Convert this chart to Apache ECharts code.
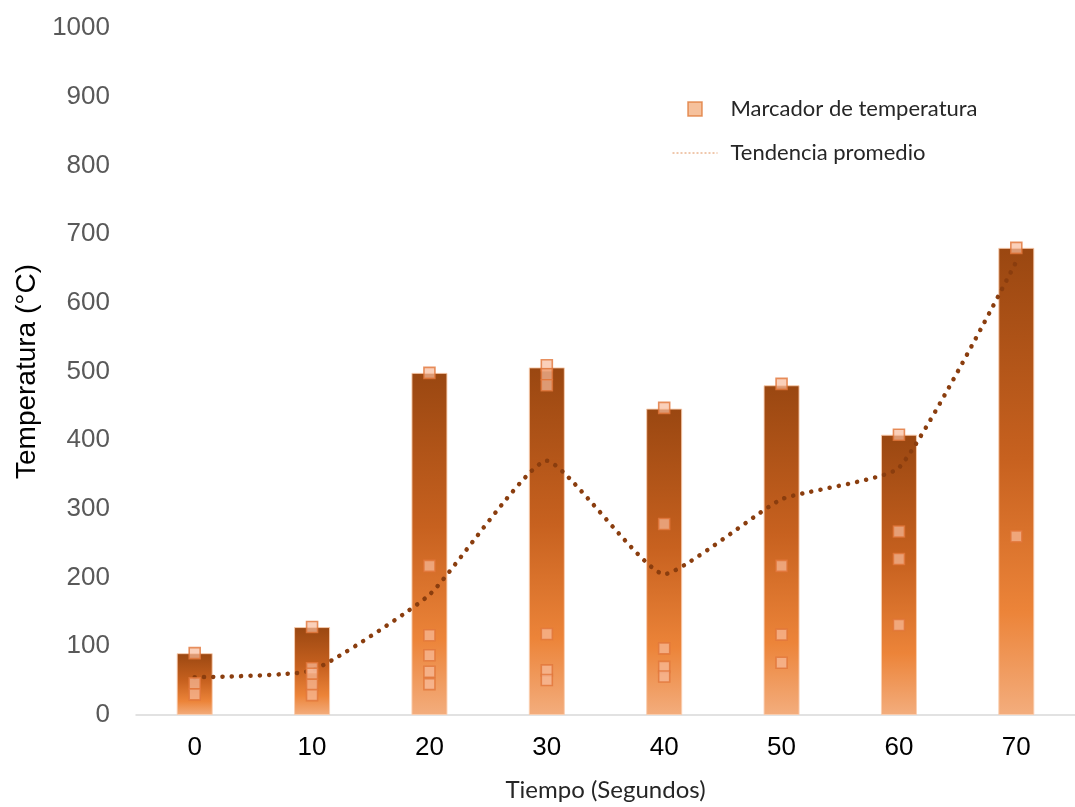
<!DOCTYPE html>
<html>
<head>
<meta charset="utf-8">
<script src="https://cdn.jsdelivr.net/npm/echarts@6/dist/echarts.min.js"></script>
<style>
  html, body { margin: 0; padding: 0; background: #fff; }
  #chart { width: 1075px; height: 807px; }
</style>
</head>
<body>
<div id="chart"></div>
<script>
// Time steps (seconds)
const categories = ['0', '10', '20', '30', '40', '50', '60', '70'];
// Peak temperature per time step (bar height)
const peakTemps = [90, 128, 498, 506, 446, 480, 408, 680];
// Individual temperature readings per time step
const readings0 = [90, 46, 30];
const readings10 = [128, 68, 60, 44, 29];
const readings20 = [498, 217, 116, 87, 63, 45];
const readings30 = [509, 496, 480, 118, 65, 51];
const readings40 = [447, 278, 97, 70, 56];
const readings50 = [482, 217, 117, 76];
const readings60 = [408, 267, 227, 131];
const readings70 = [680, 260];
// Average trend
const trendValues = [55, 65, 175, 370, 205, 314, 360, 660];
// Y axis ticks
const yMin = 0, yMax = 1000, yStep = 100;

const readingsByStep = [readings0, readings10, readings20, readings30,
                        readings40, readings50, readings60, readings70];
const scatterData = [];
readingsByStep.forEach((arr, i) => {
  arr.forEach(v => scatterData.push([categories[i], v]));
});

const chart = echarts.init(document.getElementById('chart'));

const barGradient = new echarts.graphic.LinearGradient(0, 0, 0, 1, [
  { offset: 0, color: '#9A4711' },
  { offset: 0.45, color: '#C7611F' },
  { offset: 0.78, color: '#EC8439' },
  { offset: 1, color: '#F3AD7D' }
]);

chart.setOption({
  backgroundColor: '#ffffff',
  animation: false,
  grid: { left: 136, top: 28, width: 954, height: 695 },
  legend: {
    orient: 'vertical',
    left: 667,
    top: 93,
    itemWidth: 45,
    itemHeight: 14,
    itemGap: 22,
    symbolKeepAspect: true,
    textStyle: {
      fontFamily: 'Lato', fontSize: 22, color: '#262626',
      padding: [0, 0, 0, 8]
    },
    data: [
      {
        name: 'Marcador de temperatura',
        icon: 'path://M0,0H14V14H0Z',
        itemStyle: { color: '#F4B183', borderColor: '#E07B39', borderWidth: 1.5 }
      },
      {
        name: 'Tendencia promedio',
        itemStyle: { color: 'rgba(0,0,0,0)', borderWidth: 0, opacity: 0 },
        lineStyle: { type: [2, 2], width: 1, color: '#E0905A', cap: 'butt' }
      }
    ]
  },
  xAxis: {
    type: 'category',
    data: categories,
    boundaryGap: true,
    axisLine: { show: true, lineStyle: { color: '#D9D9D9', width: 1.5 } },
    axisTick: { show: false },
    axisLabel: { color: '#000000', fontFamily: 'Liberation Sans', fontSize: 26, margin: 20 },
    name: 'Tiempo (Segundos)',
    nameLocation: 'middle',
    nameGap: 63,
    nameTextStyle: { fontFamily: 'Lato', fontSize: 24, color: '#262626' }
  },
  yAxis: {
    type: 'value',
    min: yMin, max: yMax, interval: yStep,
    axisLine: { show: false },
    axisTick: { show: false },
    splitLine: { show: false },
    axisLabel: {
      color: '#595959', fontFamily: 'Liberation Sans', fontSize: 26, margin: 26,
      formatter: v => String(v)
    },
    name: 'Temperatura (°C)',
    nameLocation: 'middle',
    nameGap: 89,
    nameTextStyle: { fontFamily: 'Liberation Sans', fontSize: 28, color: '#000000' }
  },
  series: [
    {
      name: 'Temperatura máxima',
      type: 'bar',
      data: peakTemps,
      barWidth: 36,
      itemStyle: {
        color: barGradient,
        borderColor: 'rgba(250,205,175,0.9)',
        borderWidth: 1
      },
      z: 1
    },
    {
      name: 'Tendencia promedio',
      type: 'line',
      data: trendValues,
      smooth: 0.15,
      symbol: 'none',
      itemStyle: { color: '#8A3D0E' },
      lineStyle: { color: '#8A3D0E', width: 4.5, type: [0.1, 9.2], cap: 'round' },
      z: 2
    },
    {
      name: 'Marcador de temperatura',
      type: 'scatter',
      data: scatterData,
      symbol: 'rect',
      symbolSize: 11,
      itemStyle: {
        color: 'rgba(248,188,156,0.88)',
        borderColor: '#E1763A',
        borderWidth: 1.6
      },
      z: 3
    }
  ]
});
</script>
</body>
</html>
